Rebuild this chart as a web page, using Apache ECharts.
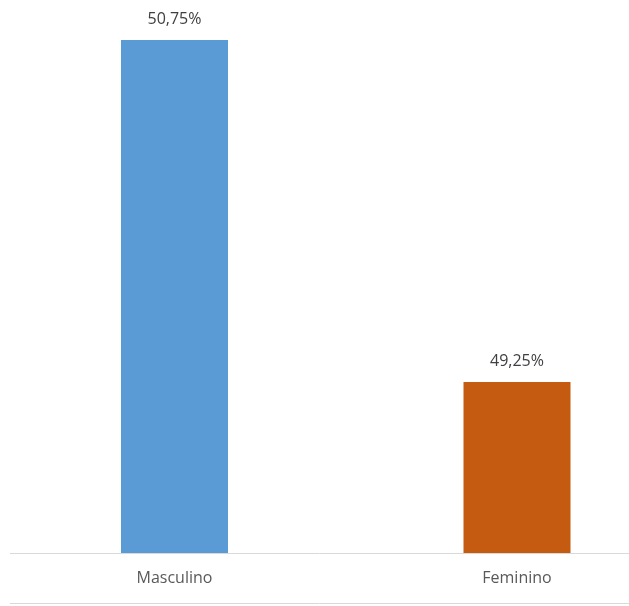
<!DOCTYPE html>
<html>
<head>
<meta charset="utf-8">
<style>
  html, body { margin: 0; padding: 0; background: #ffffff; }
  #chart { width: 629px; height: 606px; }
</style>
<script src="https://cdn.jsdelivr.net/npm/echarts@6/dist/echarts.min.js"></script>
</head>
<body>
<div id="chart"></div>
<script>
// Distribuição por sexo
const categories = ['Masculino', 'Feminino'];
const percentages = [50.75, 49.25];
const barColors = ['#5B9BD5', '#C55A11'];

const chart = echarts.init(document.getElementById('chart'));

const fmtPct = v => v.toFixed(2).replace('.', ',') + '%';

// categories sit at positions 0, 1 on a numeric axis; the visible window
// is offset so the second slot lies further right than a centered layout
const xMin = -0.5095;
const xMax = 1.327;

chart.setOption({
  animation: false,
  backgroundColor: '#ffffff',
  textStyle: { fontFamily: 'Open Sans' },
  grid: { left: 0, right: 0, top: 40, bottom: 53 },
  xAxis: {
    type: 'value',
    min: xMin,
    max: xMax,
    splitLine: { show: false },
    axisLine: { show: false },
    axisTick: { show: false },
    axisLabel: {
      customValues: categories.map((c, i) => i),
      formatter: v => categories[Math.round(v)] || '',
      color: '#595959',
      fontSize: 16,
      margin: 17,
      fontFamily: 'Open Sans'
    }
  },
  yAxis: {
    type: 'value',
    min: 48.5,
    max: 50.75,
    show: false,
    splitLine: { show: false }
  },
  series: [{
    type: 'bar',
    barWidth: 107,
    data: percentages.map((v, i) => ({ value: [i, v], itemStyle: { color: barColors[i] } })),
    label: {
      show: true,
      position: 'top',
      distance: 13,
      color: '#404040',
      fontSize: 16,
      fontFamily: 'Open Sans',
      formatter: p => fmtPct(p.value[1])
    }
  }],
  graphic: [
    { type: 'line', shape: { x1: 10, y1: 553.5, x2: 629, y2: 553.5 }, style: { stroke: '#d9d9d9', lineWidth: 1 } },
    { type: 'line', shape: { x1: 10, y1: 603.5, x2: 629, y2: 603.5 }, style: { stroke: '#d9d9d9', lineWidth: 1 } }
  ]
});
</script>
</body>
</html>
